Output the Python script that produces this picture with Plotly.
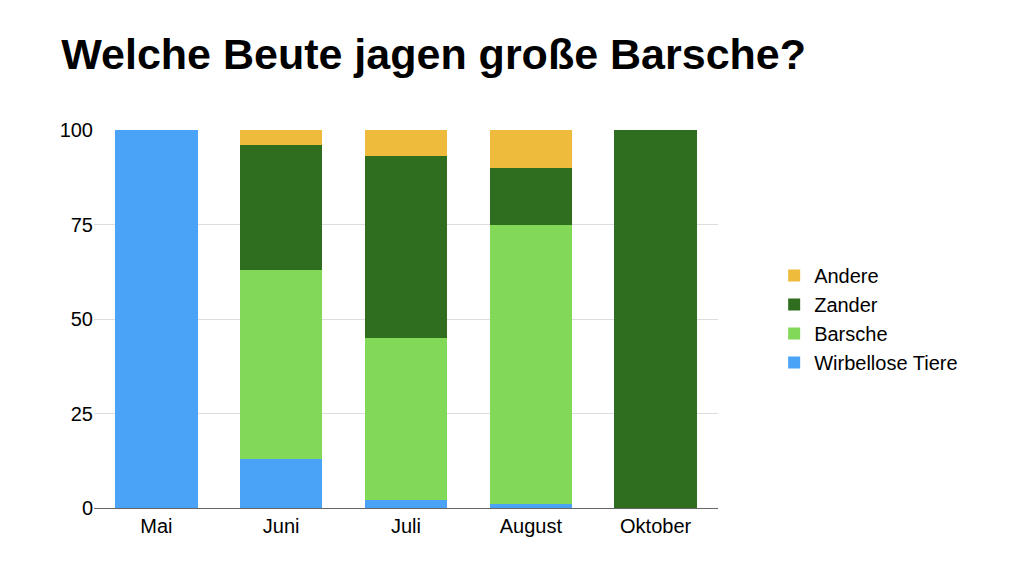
import plotly.graph_objects as go

months = ["Mai", "Juni", "Juli", "August", "Oktober"]
wirbellose = [100, 13, 2, 1, 0]
barsche = [0, 50, 43, 74, 0]
zander = [0, 33, 48, 15, 100]
andere = [0, 4, 7, 10, 0]

fig = go.Figure()
fig.add_trace(go.Bar(x=months, y=wirbellose, name="Wirbellose Tiere", marker_color="#4aa3f7"))
fig.add_trace(go.Bar(x=months, y=barsche, name="Barsche", marker_color="#82d857"))
fig.add_trace(go.Bar(x=months, y=zander, name="Zander", marker_color="#2f6e1f"))
fig.add_trace(go.Bar(x=months, y=andere, name="Andere", marker_color="#efbb3c"))

fig.update_traces(marker_line_width=0)
fig.update_layout(
    barmode="stack",
    bargap=0.34,
    width=1024, height=576,
    paper_bgcolor="white", plot_bgcolor="white",
    font=dict(family="Liberation Sans, Arial, sans-serif", size=20, color="black"),
    title=dict(text="<b>Welche Beute jagen große Barsche?</b>",
               x=0.052, y=0.92, xanchor="left", yanchor="middle",
               font=dict(size=43, color="black")),
    margin=dict(l=86, r=314, t=122, b=76),
    legend=dict(x=1.09, y=0.5, xanchor="left", yanchor="middle",
                traceorder="reversed", font=dict(size=20)),
    xaxis=dict(showline=True, linecolor="#666", linewidth=1, ticks=""),
    yaxis=dict(range=[0, 100], tickvals=[0, 25, 50, 75, 100],
               gridcolor="#dddddd", zeroline=False, ticks="", ticksuffix="  "),
)

fig.write_html("out.html")
